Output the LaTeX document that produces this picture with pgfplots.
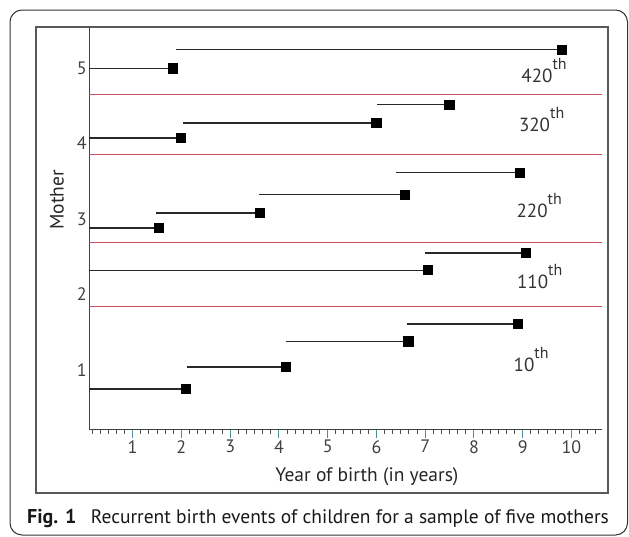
\documentclass[border=0pt]{standalone}
\usepackage{pgfplots}
\pgfplotsset{compat=1.18}
\usepackage{fontspec}
\setmainfont{PT Sans}
\definecolor{seg}{RGB}{40,40,40}
\definecolor{redl}{RGB}{200,82,92}
\definecolor{majt}{RGB}{80,140,160}
\tikzset{ann/.style={anchor=base west, inner sep=0pt, text=black!80, font=\fontsize{19}{19}\selectfont}}
\pgfplotsset{
  segm/.style={seg, line width=1.3pt, mark=square*, mark size=4.5pt, mark options={solid, fill=black, draw=black}, mark indices={2}},
  sep/.style={draw=redl, color=redl, line width=1pt, no marks},
}
\begin{document}
\begin{tikzpicture}
\useasboundingbox (0pt,0pt) rectangle (629pt,-536pt);
\draw[rounded corners=12pt, line width=1pt, black!80] (10pt,-10pt) rectangle (627.5pt,-535pt);
\draw[line width=1.2pt, black!65] (36pt,-27pt) rectangle (608pt,-493pt);
\begin{axis}[
  scale only axis, width=512.7pt, height=402pt,
  at={(89pt,-429pt)}, anchor=south west,
  xmin=0.105, xmax=10.62, ymin=0.22, ymax=5.54,
  axis x line=bottom, axis y line=left,
  axis line style={black!75, line width=1pt, -},
  xtick={1,...,10},
  minor xtick={0.1667,0.3333,0.5,0.6667,0.8333,
    1.1667,1.3333,1.5,1.6667,1.8333,
    2.1667,2.3333,2.5,2.6667,2.8333,
    3.1667,3.3333,3.5,3.6667,3.8333,
    4.1667,4.3333,4.5,4.6667,4.8333,
    5.1667,5.3333,5.5,5.6667,5.8333,
    6.1667,6.3333,6.5,6.6667,6.8333,
    7.1667,7.3333,7.5,7.6667,7.8333,
    8.1667,8.3333,8.5,8.6667,8.8333,
    9.1667,9.3333,9.5,9.6667,9.8333,
    10.1667,10.3333,10.5},
  ytick={1,...,5},
  tick align=outside,
  major tick length=9pt, minor tick length=4.5pt,
  major x tick style={majt, line width=1pt},
  minor x tick style={black!70, line width=1pt},
  y tick style={draw=none},
  /pgf/number format/assume math mode=true,
  tick label style={font=\fontsize{18}{18}\selectfont, text=black!75},
  yticklabel style={inner sep=1pt, xshift=8pt},
  xticklabel style={inner sep=1pt, yshift=-1pt},
  xlabel={Year of birth (in years)},
  ylabel={Mother},
  label style={font=\fontsize{19.5}{20}\selectfont, text=black!85},
  xlabel style={at={(axis description cs:0.542,-0.119)}, anchor=center},
  ylabel style={at={(axis description cs:-0.0624,0.57)}, anchor=center},
  clip=false,
]
% separators
\addplot[sep] coordinates {(0.105,4.645) (10.62,4.645)};
\addplot[sep] coordinates {(0.105,3.85) (10.62,3.85)};
\addplot[sep] coordinates {(0.105,2.685) (10.62,2.685)};
\addplot[sep] coordinates {(0.105,1.84) (10.62,1.84)};
% mother 5
\addplot[segm] coordinates {(0.105,4.99) (1.83,4.99)};
\addplot[segm] coordinates {(1.89,5.24) (9.80,5.24)};
% mother 4
\addplot[segm] coordinates {(0.105,4.07) (1.99,4.07)};
\addplot[segm] coordinates {(2.03,4.27) (6.00,4.27)};
\addplot[segm] coordinates {(6.02,4.51) (7.50,4.51)};
% mother 3
\addplot[segm] coordinates {(0.105,2.88) (1.54,2.88)};
\addplot[segm] coordinates {(1.48,3.08) (3.61,3.08)};
\addplot[segm] coordinates {(3.59,3.32) (6.58,3.32)};
\addplot[segm] coordinates {(6.41,3.61) (8.95,3.61)};
% mother 2
\addplot[segm] coordinates {(0.105,2.32) (7.06,2.32)};
\addplot[segm] coordinates {(6.99,2.55) (9.07,2.55)};
% mother 1
\addplot[segm] coordinates {(0.105,0.75) (2.09,0.75)};
\addplot[segm] coordinates {(2.11,1.04) (4.14,1.04)};
\addplot[segm] coordinates {(4.14,1.38) (6.66,1.38)};
\addplot[segm] coordinates {(6.62,1.61) (8.90,1.61)};
% annotations
\node[ann] at (axis cs:8.97,4.81) {420\raisebox{0.68em}{\fontsize{16}{16}\selectfont th}};
\node[ann] at (axis cs:8.92,4.16) {320\raisebox{0.68em}{\fontsize{16}{16}\selectfont th}};
\node[ann] at (axis cs:8.87,3.02) {220\raisebox{0.68em}{\fontsize{16}{16}\selectfont th}};
\node[ann] at (axis cs:8.88,2.08) {110\raisebox{0.68em}{\fontsize{16}{16}\selectfont th}};
\node[ann] at (axis cs:8.81,0.98) {10\raisebox{0.68em}{\fontsize{16}{16}\selectfont th}};
\end{axis}
\node[anchor=base west, inner sep=0pt, text=black!90, font=\fontsize{20}{20}\selectfont\bfseries] at (27pt,-523pt) {Fig. 1};
\node[anchor=base west, inner sep=0pt, text=black!90, font=\fontsize{19.5}{20}\selectfont] at (90.7pt,-523pt) {Recurrent birth events of children for a sample of five mothers};
\end{tikzpicture}
\end{document}
